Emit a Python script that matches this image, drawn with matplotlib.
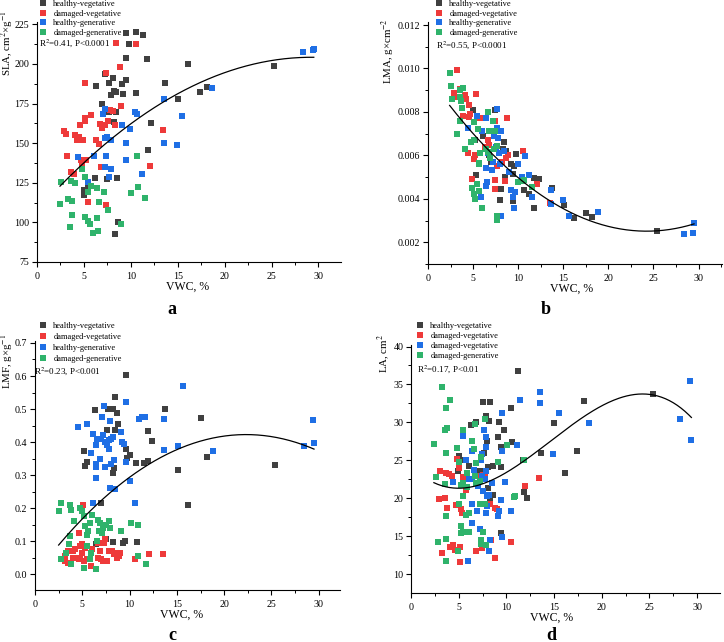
import numpy as np
import matplotlib
matplotlib.use("Agg")
import matplotlib.pyplot as plt
from matplotlib.lines import Line2D
from matplotlib.ticker import MultipleLocator

plt.rcParams['font.family'] = ['Liberation Serif', 'DejaVu Serif']
plt.rcParams['mathtext.fontset'] = 'stix'

colors = ['#404040', '#ee3a3a', '#1f6fe5', '#2fb36b']
labels = ['healthy-vegetative', 'damaged-vegetative', 'healthy-generative', 'damaged-generative']
labels_d = ['healthy-vegetative', 'damaged-vegetative', 'damaged-vegetative', 'damaged-generative']

# ---- panel a: SLA ----
a_hv_x = [9.5, 10.5, 11.3, 9.85, 9.5, 11.7, 16.1, 25.3, 7.3, 8.1, 9.5, 7.7, 9.1, 13.6, 6.3, 8.2, 8.4, 7.9, 9.2, 10.6,
          17.4, 18.1, 15.0, 6.9, 8.4, 7.7, 8.2, 12.2, 11.8, 6.15, 7.5, 8.5, 5.4, 5.0, 5.0, 5.3, 8.6, 8.35]
a_hv_y = [219.3, 220.3, 218, 212.3, 203.7, 203.3, 200, 199, 193.4, 190.9, 189.8, 187.7, 187.3, 187.7, 185.8, 183, 182.5,
          180.7, 181.2, 181.4, 182.2, 185.2, 178, 175, 170, 169.5, 163.3, 163, 145.8, 128.3, 127.2, 128.3, 123.2, 120.3,
          117.1, 119.5, 100.3, 92.9]
a_dv_x = [8.4, 10.5, 8.85, 7.4, 5.1, 5.8, 5.1, 5.1, 4.55, 8.9, 7.8, 8.1, 6.75, 7.6, 7.3, 8.35, 6.9, 2.9, 3.05, 4.1,
          4.5, 4.3, 4.9, 6.3, 6.6, 13.4, 3.2, 4.65, 5.2, 3.65, 3.9, 4.75, 6.8, 12.0, 5.4, 7.35]
a_dv_y = [213.2, 212.3, 197.8, 194, 188.3, 167.7, 165.6, 163.9, 161.4, 173.6, 170.8, 170.5, 162.4, 163.9, 161.4, 161.4,
          159.7, 157.4, 156, 155.3, 154, 151.9, 151.9, 151.9, 149.4, 158.6, 142.2, 139.7, 139.7, 131.9, 130.4, 135.7,
          134.8, 135.9, 113.1, 111]
a_hg_x = [28.3, 29.4, 29.5, 18.7, 13.5, 15.5, 7.3, 7.0, 10.4, 10.7, 9.1, 9.95, 7.25, 7.5, 7.9, 9.5, 13.5, 14.9, 4.4,
          6.1, 7.35, 9.5, 7.2, 7.9, 7.7, 11.2, 5.4]
a_hg_y = [207.5, 209, 209.5, 185, 178, 167.3, 171.3, 168.5, 170, 168.7, 161.4, 158.8, 153.4, 153.6, 151.9, 150, 150,
          148.9, 141.4, 141.6, 142, 139.7, 135, 133.4, 128.7, 130.8, 125.6]
a_dg_x = [2.6, 2.45, 3.3, 3.7, 3.6, 4.1, 4.8, 5.15, 5.75, 5.4, 6.4, 7.1, 6.6, 7.6, 3.7, 3.5, 5.15, 5.4, 5.7, 6.4,
          6.0, 6.5, 9.0, 10.7, 10.8, 10.0, 11.5]
a_dg_y = [125.8, 111.4, 115, 113.3, 126, 124.7, 133.4, 128.9, 123, 119.2, 122, 119.4, 113.1, 108, 104.9, 97.1, 103.4,
          100.9, 99.2, 102.6, 93.5, 94.4, 99.2, 141.6, 122.6, 118.8, 115.4]

# ---- panel b: LMA (x 10^-3 g cm^-2) ----
b_hv_x = [25.4, 18.2, 17.5, 16.2, 15.1, 13.7, 11.7, 11.2, 10.6, 12.3, 11.8, 9.4, 8.0, 8.1, 8.5, 9.25, 9.5, 9.4, 9.8,
          8.6, 8.4, 8.3, 6.1, 7.4, 5.0, 5.3, 5.2, 6.8, 7.0]
b_hv_y = [2.52, 3.17, 3.33, 3.1, 3.7, 4.48, 3.6, 4.2, 4.4, 4.9, 4.97, 3.89, 3.95, 4.44, 5.0, 5.59, 5.53, 5.13, 6.05,
          6.2, 6.63, 6.3, 6.9, 8.1, 8.1, 5.1, 6.7, 6.0, 5.7]
b_dv_x = [3.2, 2.9, 3.1, 3.5, 4.1, 4.2, 5.3, 4.6, 3.85, 4.5, 4.7, 5.8, 8.8, 7.4, 6.6, 6.3, 4.45, 5.2, 5.15, 8.9,
          10.5, 7.6, 8.2, 4.9, 5.1, 7.4, 8.5, 7.4, 12.05, 13.5, 8.7, 6.8]
b_dv_y = [9.93, 8.89, 8.7, 9.05, 8.8, 8.6, 8.82, 8.3, 7.83, 7.78, 7.9, 7.74, 7.74, 7.6, 6.7, 6.4, 6.1, 6.0, 5.82, 6.0,
          6.2, 5.53, 5.7, 4.9, 4.22, 4.85, 4.8, 4.44, 4.7, 3.8, 5.9, 6.5]
b_hg_x = [29.5, 28.4, 29.4, 18.8, 15.6, 15.0, 13.6, 13.6, 11.5, 11.2, 10.8, 10.4, 10.0, 9.2, 9.6, 9.4, 9.5, 8.1, 9.0,
          8.4, 7.6, 5.4, 6.4, 7.2, 4.4, 6.0, 7.7, 8.1, 7.8, 7.3, 7.9, 6.4, 7.1, 6.5, 6.4, 5.9, 7.2, 8.0, 7.5, 6.7]
b_hg_y = [2.9, 2.37, 2.41, 3.38, 3.23, 3.95, 4.4, 3.76, 4.09, 5.11, 5.96, 4.99, 5.59, 4.41, 4.33, 4.1, 3.58, 3.23,
          5.22, 6.2, 8.13, 7.8, 7.72, 7.6, 7.25, 7.12, 7.25, 7.1, 6.78, 6.9, 6.1, 5.42, 5.33, 4.79, 4.6, 4.1, 5.7, 5.6,
          6.4, 6.1]
b_dg_x = [2.4, 2.6, 2.7, 3.55, 3.85, 3.5, 3.7, 3.75, 3.6, 3.2, 4.1, 5.1, 5.5, 4.8, 5.1, 6.6, 7.2, 6.8, 7.1, 7.4,
          5.8, 5.7, 5.6, 6.4, 6.6, 6.9, 7.7, 7.3, 5.4, 4.9, 5.2, 5.1, 5.7, 6.0, 7.6, 7.7, 10.0, 10.7, 10.4, 11.5]
b_dg_y = [9.78, 9.19, 8.6, 9.0, 9.12, 8.7, 8.5, 8.17, 7.6, 7.0, 6.31, 7.54, 7.2, 6.63, 6.7, 7.98, 7.6, 7.1, 7.1, 7.1,
          6.1, 5.67, 5.6, 6.3, 6.15, 5.9, 6.45, 6.3, 4.68, 4.5, 3.99, 4.2, 4.38, 3.56, 3.03, 3.2, 4.79, 4.85, 4.8, 4.56]

# ---- panel c: LMF ----
c_hv_x = [9.6, 8.5, 7.7, 8.3, 8.7, 6.3, 13.7, 17.5, 8.8, 7.6, 8.5, 11.9, 12.4, 9.6, 10.0, 9.7, 5.2, 5.5, 5.3, 8.2,
          8.4, 10.7, 11.5, 11.9, 15.1, 18.2, 25.4, 16.2, 7.0, 6.5, 8.3, 9.3, 9.5, 10.8, 7.5]
c_hv_y = [0.603, 0.535, 0.50, 0.50, 0.487, 0.497, 0.50, 0.473, 0.454, 0.437, 0.435, 0.434, 0.402, 0.378, 0.36, 0.352,
          0.374, 0.341, 0.327, 0.307, 0.322, 0.338, 0.338, 0.342, 0.314, 0.355, 0.331, 0.208, 0.215, 0.092, 0.098,
          0.095, 0.10, 0.096, 0.106]
c_dv_x = [5.1, 4.6, 7.4, 7.3, 6.7, 5.0, 5.3, 4.8, 4.2, 4.0, 3.5, 3.2, 3.2, 3.5, 4.0, 4.5, 4.6, 4.8, 5.2, 5.5,
          5.9, 6.7, 6.9, 7.0, 7.2, 7.6, 7.8, 8.1, 8.4, 8.6, 8.7, 9.0, 8.9, 10.6, 12.1, 13.5, 5.0, 6.0]
c_dv_y = [0.21, 0.125, 0.105, 0.095, 0.095, 0.09, 0.08, 0.085, 0.075, 0.07, 0.07, 0.055, 0.04, 0.035, 0.05, 0.05,
          0.045, 0.045, 0.04, 0.045, 0.025, 0.05, 0.07, 0.045, 0.04, 0.04, 0.07, 0.07, 0.06, 0.065, 0.05, 0.065,
          0.055, 0.045, 0.06, 0.06, 0.065, 0.075]
c_hg_x = [15.6, 9.6, 7.3, 7.1, 5.5, 4.5, 7.9, 11.0, 11.3, 11.6, 13.6, 29.4, 29.5, 28.4, 18.8, 15.1, 13.6, 6.1, 6.6,
          7.2, 7.0, 7.4, 7.6, 7.8, 8.0, 8.3, 7.8, 9.1, 9.2, 9.4, 6.5, 5.9, 6.5, 6.5, 7.4, 8.0, 8.4, 9.6, 6.9, 6.5,
          7.9, 8.5, 10.0, 6.1, 10.6]
c_hg_y = [0.571, 0.522, 0.509, 0.476, 0.456, 0.446, 0.464, 0.469, 0.475, 0.476, 0.471, 0.467, 0.397, 0.389, 0.373,
          0.389, 0.377, 0.425, 0.41, 0.42, 0.41, 0.40, 0.39, 0.405, 0.41, 0.415, 0.38, 0.431, 0.40, 0.395, 0.39,
          0.367, 0.335, 0.325, 0.325, 0.335, 0.345, 0.34, 0.35, 0.29, 0.262, 0.257, 0.281, 0.216, 0.216]
c_dg_x = [2.5, 2.8, 3.7, 3.8, 3.7, 3.6, 4.1, 4.8, 5.0, 5.2, 5.3, 5.5, 5.8, 6.0, 5.6, 6.7, 6.9, 7.2, 7.5, 7.8,
          7.9, 7.1, 6.8, 9.1, 10.1, 10.9, 10.9, 11.7, 6.5, 5.2, 2.8, 3.3, 3.8, 5.5, 6.6, 5.9, 5.8]
c_dg_y = [0.19, 0.215, 0.21, 0.195, 0.115, 0.09, 0.16, 0.2, 0.19, 0.175, 0.145, 0.12, 0.155, 0.18, 0.13, 0.165,
          0.155, 0.14, 0.15, 0.16, 0.14, 0.125, 0.13, 0.13, 0.155, 0.15, 0.055, 0.03, 0.015, 0.02, 0.045, 0.065,
          0.03, 0.085, 0.1, 0.065, 0.045]

# ---- panel d: LA ----
d_hv_x = [11.2, 25.4, 18.1, 7.5, 8.3, 10.5, 7.9, 8.2, 6.3, 6.8, 9.2, 9.8, 15.0, 9.1, 10.6, 8.0, 9.4, 7.7, 13.6, 17.4,
          11.7, 5.0, 5.3, 4.97, 6.1, 8.1, 8.6, 9.4, 7.2, 8.05, 8.3, 8.6, 11.8, 12.2, 16.1, 9.4]
d_hv_y = [36.8, 33.8, 32.8, 32.7, 32.7, 31.96, 30.9, 30.2, 29.7, 30.0, 30.0, 29.0, 29.9, 28.1, 27.4, 27.6, 26.8,
          26.0, 26.0, 26.3, 25.1, 25.6, 25.1, 23.6, 24.3, 24.1, 24.2, 24.1, 23.6, 21.4, 20.0, 20.5, 20.8, 20.1,
          23.4, 15.4]
d_dv_x = [3.0, 3.7, 4.0, 4.3, 4.8, 5.0, 5.4, 5.8, 3.6, 2.9, 3.8, 4.7, 5.2, 5.3, 7.2, 7.6, 7.8, 8.3, 8.8, 9.0,
          12.0, 13.4, 4.1, 4.4, 4.6, 5.1, 5.1, 3.2, 6.8, 7.4, 8.4, 8.8, 10.5]
d_dv_y = [23.6, 23.3, 23.2, 23.0, 25.2, 24.05, 22.8, 21.1, 20.0, 19.9, 18.7, 19.1, 18.6, 18.1, 23.0, 23.1, 22.9,
          19.2, 18.7, 18.6, 21.6, 22.7, 13.6, 13.8, 13.2, 13.6, 11.6, 12.8, 13.0, 13.5, 14.5, 12.15, 14.2]
d_hg_x = [29.3, 28.2, 29.4, 13.5, 13.5, 11.4, 15.5, 18.7, 9.5, 5.4, 7.7, 7.9, 7.9, 6.4, 7.4, 9.5, 11.1, 14.9, 5.8,
          7.3, 6.6, 7.9, 4.4, 6.1, 6.4, 7.4, 7.8, 9.9, 8.5, 7.0, 7.5, 8.0, 8.2, 9.4, 6.4, 7.3, 8.0, 6.9, 7.9, 9.2,
          9.1, 10.5, 6.4, 7.2, 8.3, 9.55, 8.2, 5.95]
d_hg_y = [35.4, 30.4, 27.7, 34.0, 32.5, 32.9, 31.3, 29.9, 31.3, 28.2, 29.0, 28.05, 26.8, 26.3, 25.8, 26.2, 27.0,
          25.85, 25.0, 25.0, 23.7, 23.6, 22.2, 22.5, 22.6, 22.9, 22.5, 22.2, 22.0, 21.6, 21.0, 20.3, 20.4, 19.8,
          19.3, 19.2, 19.0, 18.3, 18.1, 18.3, 17.7, 18.3, 16.7, 15.9, 14.5, 14.97, 13.0, 11.7]
d_dg_x = [3.2, 4.1, 3.7, 3.6, 3.8, 2.4, 3.7, 4.8, 5.4, 6.4, 6.6, 6.7, 7.8, 7.3, 6.8, 5.0, 5.9, 5.4, 5.2, 5.9,
          6.8, 7.2, 6.7, 2.6, 3.6, 5.5, 5.0, 3.7, 5.8, 6.1, 7.2, 7.5, 7.8, 9.1, 10.1, 10.8, 10.9, 11.8, 5.2, 5.2,
          5.5, 6.1, 7.6, 7.3, 7.3, 7.9, 3.7, 2.8, 3.7, 4.9]
d_dg_y = [34.7, 33.0, 31.9, 29.0, 29.3, 27.2, 26.0, 26.6, 29.0, 27.5, 26.5, 29.8, 30.4, 25.5, 24.7, 24.8, 23.3,
          22.0, 21.7, 21.5, 22.0, 22.3, 23.0, 22.8, 21.9, 20.3, 19.3, 17.7, 17.8, 18.1, 19.3, 19.3, 19.3, 24.8,
          27.0, 20.2, 20.3, 25.0, 16.3, 15.4, 15.6, 15.5, 15.6, 14.5, 14.0, 13.9, 14.6, 14.3, 11.8, 13.0]

panels = [
    dict(groups=[(a_hv_x, a_hv_y), (a_dv_x, a_dv_y), (a_hg_x, a_hg_y), (a_dg_x, a_dg_y)], scale=1, deg=2,
         rect=[37, 22, 341, 262], xlim=(0, 32.4), ylim=(75, 226.5), ymaj=25, ymin=12.5, fmt='%d',
         ylabel='SLA, cm$^{2}$×g$^{-1}$', ylab_xy=(7, 10), r2='R$^{2}$=0.41, P<0.0001', r2_xy=(39, 43),
         leg_xy=(40, 0), lspace=0.2, labels=labels, letter='a', letter_xy=(172, 310), xlab_xy=(188, 287)),
    dict(groups=[(b_hv_x, b_hv_y), (b_dv_x, b_dv_y), (b_hg_x, b_hg_y), (b_dg_x, b_dg_y)], scale=1e-3, deg=2,
         rect=[428, 22, 722, 264], xlim=(0, 32.6), ylim=(0.001, 0.01214), ymaj=0.002, ymin=0.001, fmt='%.3f',
         ylabel='LMA, g×cm$^{-2}$', ylab_xy=(388, 18), r2='R$^{2}$=0.55, P<0.0001', r2_xy=(436, 45),
         leg_xy=(436, 0), lspace=0.2, labels=labels, letter='b', letter_xy=(546, 310), xlab_xy=(572, 289)),
    dict(groups=[(c_hv_x, c_hv_y), (c_dv_x, c_dv_y), (c_hg_x, c_hg_y), (c_dg_x, c_dg_y)], scale=1, deg=2,
         rect=[35, 341, 340, 590], xlim=(0, 32.25), ylim=(-0.048, 0.706), ymaj=0.1, ymin=0.05, fmt='%.1f',
         ylabel='LMF, g×g$^{-1}$', ylab_xy=(7, 334), r2='R$^{2}$=0.23, P<0.001', r2_xy=(34, 371),
         leg_xy=(40, 322), lspace=0.35, labels=labels, letter='c', letter_xy=(172, 635), xlab_xy=(182, 615)),
    dict(groups=[(d_hv_x, d_hv_y), (d_dv_x, d_dv_y), (d_hg_x, d_hg_y), (d_dg_x, d_dg_y)], scale=1, deg=3,
         rect=[411, 345, 720, 593], xlim=(0, 32.4), ylim=(7.53, 40.2), ymaj=5, ymin=2.5, fmt='%d',
         ylabel='LA, cm$^{2}$', ylab_xy=(384, 334), r2='R$^{2}$=0.17, P<0.01', r2_xy=(417, 369),
         leg_xy=(417, 322), lspace=0.25, labels=labels_d, letter='d', letter_xy=(551, 635), xlab_xy=(552, 618)),
]

W, H = 724, 642
fig = plt.figure(figsize=(W / 100, H / 100), dpi=100)

for p in panels:
    l, t, r, b = p['rect']
    ax = fig.add_axes([l / W, 1 - b / H, (r - l) / W, (b - t) / H])
    allx, ally = [], []
    for (gx, gy), col in zip(p['groups'], colors):
        gy = np.array(gy) * p['scale']
        ax.scatter(gx, gy, marker='s', s=16, color=col, linewidths=0, zorder=2)
        allx += list(gx)
        ally += list(gy)
    allx = np.array(allx)
    ally = np.array(ally)
    # polynomial trend over all groups
    coef = np.polyfit(allx, ally, p['deg'])
    xs = np.linspace(allx.min(), allx.max(), 200)
    ax.plot(xs, np.polyval(coef, xs), color='black', lw=0.9, zorder=3)

    ax.set_xlim(*p['xlim'])
    ax.set_ylim(*p['ylim'])
    ax.xaxis.set_major_locator(MultipleLocator(5))
    ax.xaxis.set_minor_locator(MultipleLocator(2.5))
    ax.yaxis.set_major_locator(MultipleLocator(p['ymaj']))
    ax.yaxis.set_minor_locator(MultipleLocator(p['ymin']))
    ax.yaxis.set_major_formatter(matplotlib.ticker.FormatStrFormatter(p['fmt']))
    if p['letter'] == 'b':
        ax.set_yticks([0.002, 0.004, 0.006, 0.008, 0.010, 0.012])
    if p['letter'] == 'c':
        ax.set_yticks([0.0, 0.1, 0.2, 0.3, 0.4, 0.5, 0.6, 0.7])
    for s in ['top', 'right']:
        ax.spines[s].set_visible(False)
    for s in ['left', 'bottom']:
        ax.spines[s].set_linewidth(0.8)
    ax.tick_params(which='major', direction='out', length=3.5, width=0.8, labelsize=7.2)
    ax.tick_params(axis='x', which='major', pad=4)
    ax.tick_params(axis='y', which='major', pad=2)
    ax.tick_params(which='minor', direction='out', length=2, width=0.7)

    fig.text(p['xlab_xy'][0] / W, 1 - p['xlab_xy'][1] / H, 'VWC, %', ha='center', va='center', fontsize=8.5)
    fig.text(p['ylab_xy'][0] / W, 1 - p['ylab_xy'][1] / H, p['ylabel'], rotation=90,
             ha='center', va='top', fontsize=7.8)
    fig.text(p['r2_xy'][0] / W, 1 - p['r2_xy'][1] / H, p['r2'], ha='left', va='center', fontsize=6.5)
    fig.text(p['letter_xy'][0] / W, 1 - p['letter_xy'][1] / H, p['letter'], ha='center', va='center',
             fontsize=13, fontweight='bold')

    handles = [Line2D([], [], marker='s', ls='none', color=c, markersize=4.2, markeredgewidth=0) for c in colors]
    ax.legend(handles, p['labels'], loc='upper left',
              bbox_to_anchor=(p['leg_xy'][0] / W, 1 - p['leg_xy'][1] / H), bbox_transform=fig.transFigure,
              frameon=False, fontsize=6, handlelength=0.7, handletextpad=0.9, labelspacing=p['lspace'],
              borderpad=0, borderaxespad=0)

fig.savefig('out.png', dpi=100)
